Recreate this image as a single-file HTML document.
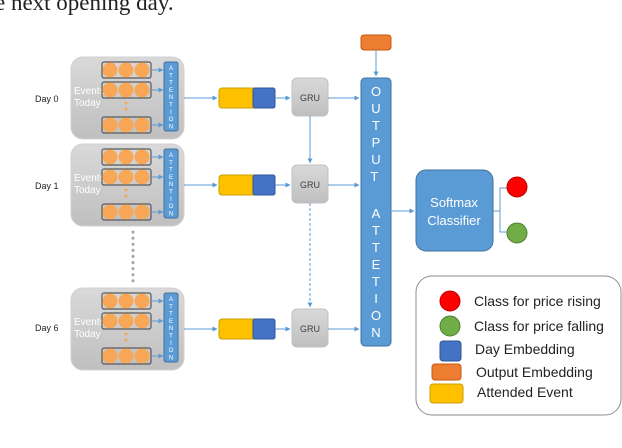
<!DOCTYPE html>
<html><head><meta charset="utf-8"><style>
html,body{margin:0;padding:0;background:#fff;}
svg{display:block;font-family:"Liberation Sans",sans-serif;}
</style></head><body>
<svg width="622" height="448" viewBox="0 0 622 448" xmlns="http://www.w3.org/2000/svg">
<defs>
<marker id="a" viewBox="0 0 10 10" refX="9" refY="5" markerWidth="5" markerHeight="5" orient="auto"><path d="M0,0L10,5L0,10z" fill="#5b9bd5"/></marker>
<linearGradient id="g" x1="0" y1="0" x2="0" y2="1"><stop offset="0" stop-color="#d9d9d9"/><stop offset="1" stop-color="#bfbfbf"/></linearGradient>
<g id="day">
<rect x="71" y="0" width="113" height="82" rx="12" fill="url(#g)" stroke="#d0d0d0"/>
<text x="74" y="37" font-size="10" fill="#fff">Events</text>
<text x="74" y="49" font-size="10" fill="#fff">Today</text>
<g id="row">
<rect x="102" y="5" width="49" height="16" rx="2" fill="none" stroke="#595959" stroke-width="1.2"/>
<circle cx="110" cy="13" r="7.5" fill="#f8a757"/><circle cx="126" cy="13" r="7.5" fill="#f8a757"/><circle cx="142" cy="13" r="7.5" fill="#f8a757"/>
<line x1="152" y1="13" x2="163" y2="13" stroke="#5b9bd5" marker-end="url(#a)"/>
</g>
<use href="#row" y="20"/><use href="#row" y="55"/>
<circle cx="126" cy="46" r="1.5" fill="#f8a757"/><circle cx="126" cy="52" r="1.5" fill="#f8a757"/>
<rect x="164" y="5" width="14" height="69" rx="2" fill="#5b9bd5" stroke="#41719c"/>
<text font-size="6" fill="#fff" text-anchor="middle">
<tspan x="171" y="13">A</tspan><tspan x="171" y="20.3">T</tspan><tspan x="171" y="27.6">T</tspan><tspan x="171" y="34.9">E</tspan><tspan x="171" y="42.2">N</tspan><tspan x="171" y="49.5">T</tspan><tspan x="171" y="56.8">I</tspan><tspan x="171" y="64.1">O</tspan><tspan x="171" y="71.4">N</tspan></text>
<line x1="184" y1="41" x2="217" y2="41" stroke="#5b9bd5" marker-end="url(#a)"/>
<rect x="219" y="31" width="56" height="20" rx="3" fill="#ffc000" stroke="#c9a000"/>
<rect x="253" y="31" width="22" height="20" rx="2" fill="#4472c4" stroke="#2f5597"/>
<line x1="275" y1="41" x2="290" y2="41" stroke="#5b9bd5" marker-end="url(#a)"/>
<rect x="292" y="21" width="36" height="38" rx="5" fill="url(#g)" stroke="#c0c0c0"/>
<text x="310" y="44" font-size="9" fill="#404040" text-anchor="middle">GRU</text>
<line x1="328" y1="41" x2="359" y2="41" stroke="#5b9bd5" marker-end="url(#a)"/>
</g>
</defs>
<text x="-5" y="10" font-family="Liberation Serif" font-size="23" fill="#222">e next opening day.</text>
<use href="#day" y="57"/>
<use href="#day" y="144"/>
<use href="#day" y="288"/>
<text x="35" y="102" font-size="9" fill="#222">Day 0</text>
<text x="35" y="189" font-size="9" fill="#222">Day 1</text>
<text x="35" y="331" font-size="9" fill="#222">Day 6</text>
<line x1="133" y1="232" x2="133" y2="285" stroke="#a6a6a6" stroke-width="3" stroke-dasharray="0.1 6" stroke-linecap="round"/>
<line x1="310" y1="116" x2="310" y2="163" stroke="#5b9bd5" marker-end="url(#a)"/>
<line x1="310" y1="203" x2="310" y2="307" stroke="#5b9bd5" stroke-dasharray="3 2" marker-end="url(#a)"/>
<rect x="361" y="35" width="30" height="15" rx="3" fill="#ed7d31" stroke="#c55a11"/>
<line x1="376" y1="50" x2="376" y2="76" stroke="#5b9bd5" marker-end="url(#a)"/>
<rect x="361" y="78" width="30" height="268" rx="4" fill="#5b9bd5" stroke="#41719c"/>
<text font-size="13" fill="#fff" text-anchor="middle">
<tspan x="376" y="96">O</tspan><tspan x="376" y="113">U</tspan><tspan x="376" y="130">T</tspan><tspan x="376" y="147">P</tspan><tspan x="376" y="164">U</tspan><tspan x="376" y="181">T</tspan>
<tspan x="376" y="218">A</tspan><tspan x="376" y="235">T</tspan><tspan x="376" y="252">T</tspan><tspan x="376" y="269">E</tspan><tspan x="376" y="286">T</tspan><tspan x="376" y="303">I</tspan><tspan x="376" y="320">O</tspan><tspan x="376" y="337">N</tspan></text>
<line x1="391" y1="211" x2="414" y2="211" stroke="#5b9bd5" marker-end="url(#a)"/>
<rect x="416" y="170" width="77" height="81" rx="10" fill="#5b9bd5" stroke="#41719c"/>
<text x="454" y="207" font-size="13" fill="#fff" text-anchor="middle">Softmax</text>
<text x="454" y="225" font-size="13" fill="#fff" text-anchor="middle">Classifier</text>
<path d="M493,211H500V188H507M500,211V232H507" fill="none" stroke="#5b9bd5"/>
<circle cx="517" cy="187" r="10" fill="#ff0000" stroke="#c00000"/>
<circle cx="517" cy="233" r="10" fill="#70ad47" stroke="#507e32"/>
<rect x="416" y="276" width="205" height="139" rx="16" fill="#fff" stroke="#8c8c8c"/>
<circle cx="450" cy="301" r="10" fill="#ff0000" stroke="#c00000"/>
<circle cx="450" cy="326" r="10" fill="#70ad47" stroke="#507e32"/>
<rect x="440" y="341" width="21" height="20" rx="3" fill="#4472c4" stroke="#2f5597"/>
<rect x="432" y="364" width="29" height="16" rx="3" fill="#ed7d31" stroke="#c55a11"/>
<rect x="430" y="384" width="33" height="19" rx="3" fill="#ffc000" stroke="#c9a000"/>
<g font-size="14" fill="#222">
<text x="474" y="306">Class for price rising</text>
<text x="474" y="331">Class for price falling</text>
<text x="475" y="354">Day Embedding</text>
<text x="476" y="377">Output Embedding</text>
<text x="477" y="397">Attended Event</text>
</g>
</svg>
</body></html>
